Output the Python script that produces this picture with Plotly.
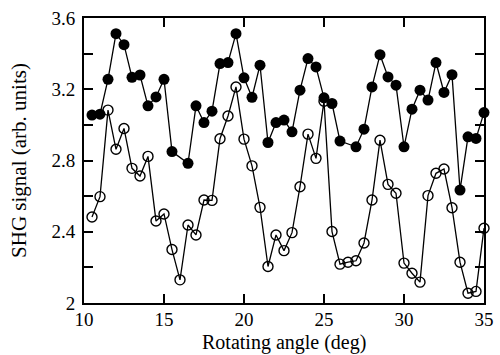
import plotly.graph_objects as go

angle = [10.5, 11, 11.5, 12, 12.5, 13, 13.5, 14, 14.5, 15, 15.5, 16, 16.5, 17, 17.5,
         18, 18.5, 19, 19.5, 20, 20.5, 21, 21.5, 22, 22.5, 23, 23.5, 24, 24.5, 25,
         25.5, 26, 26.5, 27, 27.5, 28, 28.5, 29, 29.5, 30, 30.5, 31, 31.5, 32, 32.5,
         33, 33.5, 34, 34.5, 35]

filled_signal = [3.055, 3.06, 3.256, 3.512, 3.45, 3.267, 3.28, 3.107, 3.157, 3.256,
                 2.85, None, 2.784, 3.107, 3.013, 3.077, 3.344, 3.35, 3.512, 3.264,
                 3.155, 3.335, 2.901, 3.013, 3.027, 2.961, 3.195, 3.372, 3.325, 3.152,
                 3.12, 2.909, None, 2.877, 2.976, 3.213, 3.394, 3.269, 3.223, 2.877,
                 3.088, 3.195, 3.139, 3.35, 3.182, 3.282, 2.634, 2.933, 2.924, 3.069]

open_signal = [2.483, 2.597, 3.083, 2.863, 2.98, 2.756, 2.713, 2.823, 2.46, 2.5,
               2.30, 2.13, 2.438, 2.382, 2.578, 2.576, 2.922, 3.05, 3.213, 2.92,
               2.77, 2.537, 2.205, 2.382, 2.294, 2.395, 2.653, 2.948, 2.812, 3.133,
               2.401, 2.218, 2.229, 2.237, 2.337, 2.578, 2.914, 2.666, 2.616, 2.224,
               2.167, 2.117, 2.603, 2.728, 2.752, 2.535, 2.229, 2.055, 2.065, 2.42]

x_ticks = [10, 15, 20, 25, 30, 35]
y_ticks = [2.0, 2.2, 2.4, 2.6, 2.8, 3.0, 3.2, 3.4, 3.6]
y_ticktext = ["2", "", "2.4", "", "2.8", "", "3.2", "", "3.6"]

FONT = "Liberation Serif, Times New Roman, serif"

fig = go.Figure()
fig.add_trace(go.Scatter(
    x=angle, y=open_signal, mode="lines+markers", connectgaps=True,
    line=dict(color="black", width=1.3),
    marker=dict(symbol="circle-open", size=10, color="black", line=dict(width=1.4)),
    cliponaxis=False, showlegend=False))
fig.add_trace(go.Scatter(
    x=angle, y=filled_signal, mode="lines+markers", connectgaps=True,
    line=dict(color="black", width=1.3),
    marker=dict(symbol="circle", size=11, color="black"),
    cliponaxis=False, showlegend=False))

axis_common = dict(showline=True, linecolor="black", linewidth=2, mirror="ticks",
                   ticks="inside", ticklen=9, tickwidth=1.5, tickcolor="black",
                   showgrid=False, zeroline=False, automargin=False,
                   tickfont=dict(family=FONT, size=19, color="black"))

fig.update_xaxes(range=[10, 35], tickvals=x_ticks, ticklabelstandoff=-2, **axis_common)
fig.update_yaxes(range=[2, 3.6], tickvals=y_ticks, ticktext=y_ticktext,
                 ticklabelstandoff=3,
                 title=dict(text="SHG signal (arb. units)", standoff=19,
                            font=dict(family=FONT, size=21, color="black")),
                 **axis_common)

fig.add_annotation(text="Rotating angle (deg)", xref="paper", yref="paper",
                   x=0.5, y=-0.14, xanchor="center", yanchor="middle",
                   showarrow=False, borderpad=0,
                   font=dict(family=FONT, size=20, color="black"))

fig.update_layout(width=500, height=355, margin=dict(l=84, r=16, t=18, b=52),
                  plot_bgcolor="white", paper_bgcolor="white",
                  font=dict(family=FONT, color="black"))

fig.write_html("out.html")
